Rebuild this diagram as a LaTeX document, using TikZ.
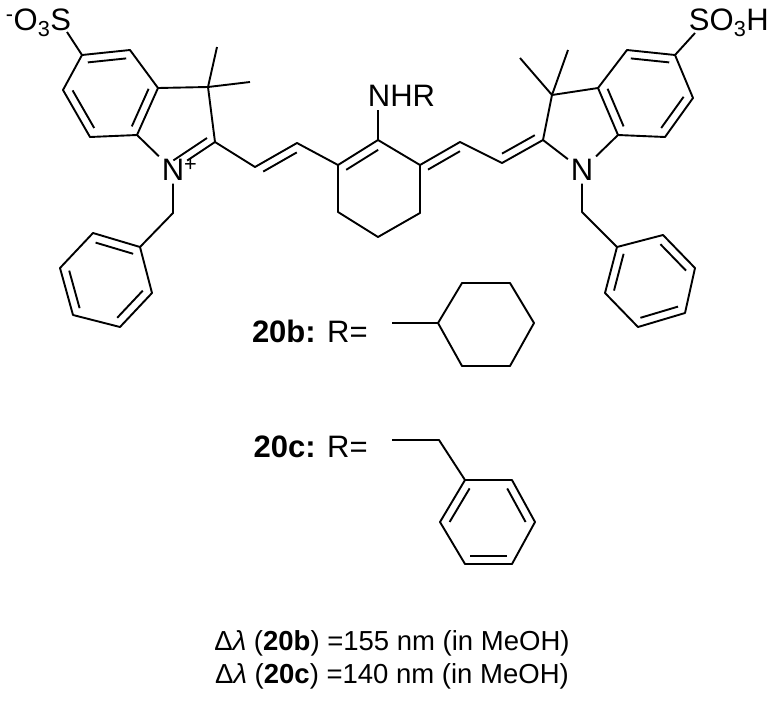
\documentclass[tikz,border=0pt]{standalone}
\usepackage{fontspec}
\setmainfont{Liberation Sans}
\usetikzlibrary{calc}
% inner line of a double bond, pulled toward a reference point
\newcommand{\inner}[3]{\draw ($(#1)!.2!(#3)$) -- ($(#2)!.2!(#3)$);}
\begin{document}
\begin{tikzpicture}[x=1pt,y=-1pt,line width=1.9pt,line join=round,
  atom/.style={inner sep=2pt,font=\fontsize{31}{34}\selectfont},
  txt/.style={font=\fontsize{31}{34}\selectfont},
  note/.style={font=\fontsize{27.5}{30}\selectfont}]
\useasboundingbox (0,0) rectangle (781,702);

% left indolium
\coordinate (L4) at (130,50);  \coordinate (L5) at (82,55);
\coordinate (L6) at (63,90);   \coordinate (L7) at (90,137);
\coordinate (L7a) at (137,135); \coordinate (L3a) at (158,88);
\coordinate (Lc) at (111,92);
\coordinate (L3) at (208,87);  \coordinate (L2) at (215,142);
\coordinate (Lr) at (175,122);
\coordinate (LMe1) at (217,47); \coordinate (LMe2) at (250,82);
\coordinate (LS) at (67,32);
\node[atom] (LN) at (173,170) {N\rlap{\textsuperscript{+}}};
\node[atom,anchor=south east,inner sep=0pt] (LSO) at (72,38) {\textsuperscript{-}O\textsubscript{3}S};
\draw (L4) -- (L5) -- (L6) -- (L7) -- (L7a) -- (L3a) -- cycle;
\inner{L4}{L5}{Lc} \inner{L6}{L7}{Lc} \inner{L7a}{L3a}{Lc}
\draw (L5) -- (LS);
\draw (L3a) -- (L3) -- (L2) -- (LN) -- (L7a);
\draw (LMe1) -- (L3) -- (LMe2);
\inner{L2}{LN}{Lr}

% left chain and cyclohexene
\coordinate (La) at (255,167); \coordinate (Lb) at (297,143);
\coordinate (C1) at (338,165); \coordinate (C2) at (378,140);
\coordinate (C3) at (420,165); \coordinate (C4) at (420,213);
\coordinate (C5) at (378,237); \coordinate (C6) at (338,212);
\coordinate (Cc) at (379,189);
\coordinate (CN) at (378,110);
\node[txt,anchor=base west,inner sep=0pt] (NHR) at (367,106) {NHR};
\draw (L2) -- (La) -- (Lb) -- (C1);
\inner{La}{Lb}{296,190}
\draw (C1) -- (C2) -- (C3) -- (C4) -- (C5) -- (C6) -- cycle;
\inner{C1}{C2}{Cc}
\draw (C2) -- (CN);

% right chain
\coordinate (Ra) at (460,142); \coordinate (Rb) at (502,163);
\coordinate (R2) at (543,140);
\draw (C3) -- (Ra) -- (Rb) -- (R2);
\inner{C3}{Ra}{460,188} \inner{Rb}{R2}{502,116}

% right indoline
\coordinate (R3) at (552,95);
\coordinate (RMe1) at (520,58); \coordinate (RMe2) at (568,50);
\coordinate (R3a) at (598,88); \coordinate (R7a) at (618,135);
\coordinate (R7) at (665,137); \coordinate (R6) at (693,98);
\coordinate (R5) at (675,55);  \coordinate (R4) at (627,50);
\coordinate (Rc) at (646,92);
\coordinate (RS) at (695,33);
\node[atom] (RN) at (582,170) {N};
\node[atom,anchor=south west,inner sep=0pt] (RSO) at (688,38) {SO\textsubscript{3}H};
\draw (R4) -- (R5) -- (R6) -- (R7) -- (R7a) -- (R3a) -- cycle;
\inner{R4}{R5}{Rc} \inner{R6}{R7}{Rc} \inner{R7a}{R3a}{Rc}
\draw (R5) -- (RS);
\draw (R3a) -- (R3) -- (R2) -- (RN) -- (R7a);
\draw (RMe1) -- (R3) -- (RMe2);

% benzyl groups
\coordinate (LCH) at (173,213);
\coordinate (LP1) at (140,247); \coordinate (LP2) at (93,233);
\coordinate (LP3) at (60,268);  \coordinate (LP4) at (73,315);
\coordinate (LP5) at (120,327); \coordinate (LP6) at (152,293);
\coordinate (LPc) at (106,281);
\draw (LN) -- (LCH) -- (LP1);
\draw (LP1) -- (LP2) -- (LP3) -- (LP4) -- (LP5) -- (LP6) -- cycle;
\inner{LP1}{LP2}{LPc} \inner{LP3}{LP4}{LPc} \inner{LP5}{LP6}{LPc}
\coordinate (RCH) at (582,212);
\coordinate (RP1) at (617,247); \coordinate (RP2) at (663,235);
\coordinate (RP3) at (695,268); \coordinate (RP4) at (685,313);
\coordinate (RP5) at (638,327); \coordinate (RP6) at (605,293);
\coordinate (RPc) at (650,281);
\draw (RN) -- (RCH) -- (RP1);
\draw (RP1) -- (RP2) -- (RP3) -- (RP4) -- (RP5) -- (RP6) -- cycle;
\inner{RP2}{RP3}{RPc} \inner{RP4}{RP5}{RPc} \inner{RP6}{RP1}{RPc}

% R = cyclohexyl
\node[txt,anchor=east] (Lb20) at (372,331) {\textbf{20b:} R=};
\coordinate (X0) at (392,323);
\coordinate (X1) at (438,323); \coordinate (X2) at (462,283);
\coordinate (X3) at (510,283); \coordinate (X4) at (534,323);
\coordinate (X5) at (510,366); \coordinate (X6) at (462,366);
\draw (X0) -- (X1);
\draw (X1) -- (X2) -- (X3) -- (X4) -- (X5) -- (X6) -- cycle;

% R = benzyl
\node[txt,anchor=east] (Lc20) at (372,447) {\textbf{20c:} R=};
\coordinate (Y0) at (392,440); \coordinate (Y1) at (439,440);
\coordinate (B1) at (465,480); \coordinate (B2) at (512,480);
\coordinate (B3) at (535,522); \coordinate (B4) at (512,564);
\coordinate (B5) at (465,564); \coordinate (B6) at (440,522);
\coordinate (Bc) at (488,522);
\draw (Y0) -- (Y1) -- (B1);
\draw (B1) -- (B2) -- (B3) -- (B4) -- (B5) -- (B6) -- cycle;
\inner{B2}{B3}{Bc} \inner{B4}{B5}{Bc} \inner{B6}{B1}{Bc}

% shifts
\node[note] (S20b) at (392,643) {Δ\textit{λ} (\textbf{20b}) =155 nm (in MeOH)};
\node[note] (S20c) at (392,676) {Δ\textit{λ} (\textbf{20c}) =140 nm (in MeOH)};
\end{tikzpicture}
\end{document}
